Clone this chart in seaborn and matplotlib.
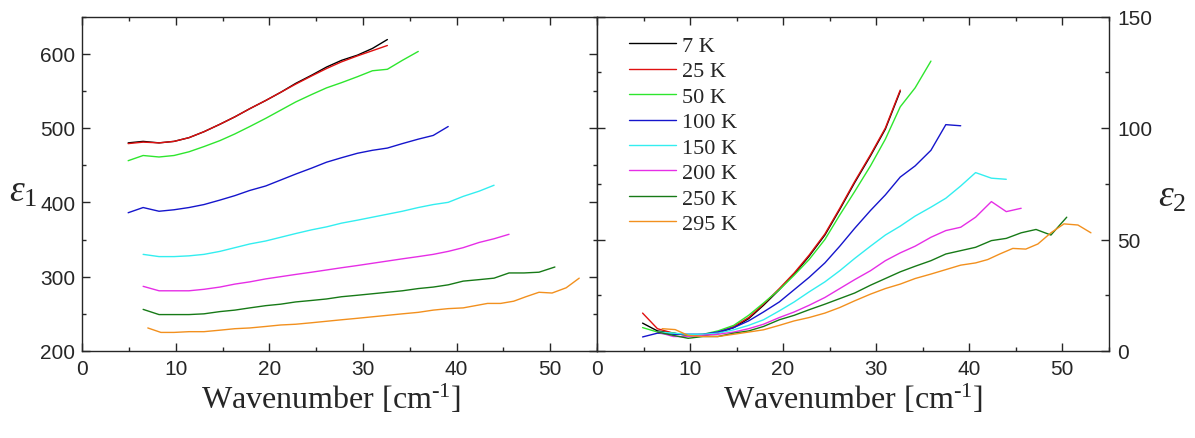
import numpy as np
import pandas as pd
import matplotlib
matplotlib.use('Agg')
import matplotlib.pyplot as plt
import seaborn as sns
from matplotlib.ticker import MultipleLocator

# ---------------- data ----------------
temps = ['7 K', '25 K', '50 K', '100 K', '150 K', '200 K', '250 K', '295 K']
colors = ['#000000', '#e01010', '#2ee62e', '#1515cc', '#33eef0', '#e62ee6', '#177a17', '#f2901e']

x7 = [4.9, 6.5, 8.2, 9.8, 11.4, 13.0, 14.7, 16.3, 17.9, 19.6, 21.2, 22.8, 24.5, 26.1, 27.7, 29.4, 31.0, 32.6]
e1_7 = [480, 482, 480, 482, 487, 495, 505, 515, 526, 537, 548, 560, 571, 582, 591, 598, 607, 619]
e2_7 = [12.5, 9, 8, 7, 7, 8, 10.5, 14.5, 20.5, 27.5, 34.5, 42.5, 52, 63.5, 75.5, 87.5, 99.5, 116.5]

x25 = [4.9, 6.5, 8.2, 9.8, 11.4, 13.0, 14.7, 16.3, 17.9, 19.6, 21.2, 22.8, 24.5, 26.1, 27.7, 29.4, 31.0, 32.6]
e1_25 = [479, 481, 480, 482, 487, 495, 505, 515, 526, 537, 548, 559, 570, 580, 589, 597, 604, 611]
e2_25 = [17, 10, 8, 7, 7, 8.5, 11, 15, 21, 28, 35, 43, 52.5, 64, 76, 88, 100, 117]

x50 = [4.9, 6.5, 8.2, 9.8, 11.4, 13.0, 14.7, 16.3, 17.9, 19.6, 21.2, 22.8, 24.5, 26.1, 27.7, 29.4, 31.0, 32.6, 34.2, 35.9]
e1_50 = [456, 463, 461, 463, 468, 475, 483, 492, 502, 513, 524, 535, 545, 554, 561, 569, 577, 579, 591, 603]
e2_50 = [10.5, 8.5, 8, 7, 7.5, 9, 11.5, 16, 21.5, 27.5, 34, 41, 50, 61, 71.5, 83, 95, 109.5, 118, 130]

x100 = [4.9, 6.5, 8.2, 9.8, 11.4, 13.0, 14.7, 16.3, 17.9, 19.6, 21.2, 22.8, 24.5, 26.1, 27.7, 29.4, 31.0, 32.6, 34.2, 35.9, 37.5, 39.1]
e1_100 = [386, 393, 388, 390, 393, 397, 403, 409, 416, 422, 430, 438, 446, 454, 460, 466, 470, 473, 479, 485, 490, 502]
e2_100 = [6.3, 8, 7.5, 7.5, 7.5, 8.5, 10.5, 13.5, 17.5, 22, 27.5, 33, 39.5, 47, 55, 63, 70, 78, 83, 90, 101.5, 101]

x150 = [6.5, 8.2, 9.8, 11.4, 13.0, 14.7, 16.3, 17.9, 19.6, 21.2, 22.8, 24.5, 26.1, 27.7, 29.4, 31.0, 32.6, 34.2, 35.9, 37.5, 39.1, 40.7, 42.4, 44.0]
e1_150 = [330, 327, 327, 328, 330, 334, 339, 344, 348, 353, 358, 363, 367, 372, 376, 380, 384, 388, 393, 397, 400, 408, 415, 423]
e2_150 = [8.5, 8, 7.5, 7.5, 8, 9.5, 11.5, 14, 18, 22, 26.5, 31, 36, 41.5, 47, 52, 56, 60.5, 64.5, 68.5, 74, 80, 77.5, 77]

x200 = [6.5, 8.2, 9.8, 11.4, 13.0, 14.7, 16.3, 17.9, 19.6, 21.2, 22.8, 24.5, 26.1, 27.7, 29.4, 31.0, 32.6, 34.2, 35.9, 37.5, 39.1, 40.7, 42.4, 44.0, 45.6]
e1_200 = [287, 281, 281, 281, 283, 286, 290, 293, 297, 300, 303, 306, 309, 312, 315, 318, 321, 324, 327, 330, 334, 339, 346, 351, 357]
e2_200 = [8.5, 6.5, 6.5, 7, 7.5, 8.5, 10, 12, 15, 17.5, 20.5, 24, 28, 32, 36, 40.5, 44, 47, 51, 54, 55.5, 60, 67, 62.5, 64]

x250 = [6.5, 8.2, 9.8, 11.4, 13.0, 14.7, 16.3, 17.9, 19.6, 21.2, 22.8, 24.5, 26.1, 27.7, 29.4, 31.0, 32.6, 34.2, 35.9, 37.5, 39.1, 40.7, 42.4, 44.0, 45.6, 47.2, 48.8, 50.5]
e1_250 = [256, 249, 249, 249, 250, 253, 255, 258, 261, 263, 266, 268, 270, 273, 275, 277, 279, 281, 284, 286, 289, 294, 296, 298, 305, 305, 306, 313]
e2_250 = [8.5, 7, 5.7, 6.5, 6.5, 8, 9, 11, 14, 16, 18.5, 21, 23.5, 26, 29.5, 32.5, 35.5, 38, 40.5, 43.5, 45, 46.5, 49.5, 50.5, 53, 54.5, 52, 60]

x295 = [7.0, 8.4, 9.8, 11.4, 13.0, 14.7, 16.3, 17.9, 19.6, 21.2, 22.8, 24.5, 26.1, 27.7, 29.4, 31.0, 32.6, 34.2, 35.9, 37.5, 39.1, 40.7, 42.0, 43.3, 44.7, 46.1, 47.4, 48.8, 50.2, 51.7, 53.1]
e1_295 = [231, 225, 225, 226, 226, 228, 230, 231, 233, 235, 236, 238, 240, 242, 244, 246, 248, 250, 252, 255, 257, 258, 261, 264, 264, 267, 273, 279, 278, 285, 298]
e2_295 = [10, 9.6, 7, 6.5, 6.5, 7.5, 8.5, 9.5, 11.5, 13.5, 15, 17, 19.5, 22.5, 25.5, 28, 30, 32.5, 34.5, 36.5, 38.5, 39.5, 41, 43.5, 46, 45.7, 48, 53, 57, 56.5, 53]

xs = [x7, x25, x50, x100, x150, x200, x250, x295]
e1s = [e1_7, e1_25, e1_50, e1_100, e1_150, e1_200, e1_250, e1_295]
e2s = [e2_7, e2_25, e2_50, e2_100, e2_150, e2_200, e2_250, e2_295]

rows = []
for t, x, a, b in zip(temps, xs, e1s, e2s):
    for xi, ai, bi in zip(x, a, b):
        rows.append({'T': t, 'wn': xi, 'e1': ai, 'e2': bi})
df = pd.DataFrame(rows)
pal = dict(zip(temps, colors))

# ---------------- style ----------------
sns.set_style('ticks')
plt.rcParams['font.family'] = ['Liberation Sans', 'DejaVu Sans']
plt.rcParams['mathtext.fontset'] = 'custom'
plt.rcParams['mathtext.rm'] = 'Liberation Serif'
plt.rcParams['mathtext.it'] = 'Liberation Serif:italic'
plt.rcParams['axes.linewidth'] = 1.0

W, H = 1195, 439
fig = plt.figure(figsize=(W / 100, H / 100), dpi=100)
bot = 1 - 352 / H
hgt = (352 - 17.5) / H
ax1 = fig.add_axes([82.3 / W, bot, (597 - 82.3) / W, hgt])
ax2 = fig.add_axes([597 / W, bot, (1108.6 - 597) / W, hgt])

sns.lineplot(data=df, x='wn', y='e1', hue='T', hue_order=temps, palette=pal,
             sort=False, estimator=None, ax=ax1, legend=False, linewidth=1.0)
sns.lineplot(data=df, x='wn', y='e2', hue='T', hue_order=temps, palette=pal,
             sort=False, estimator=None, ax=ax2, legend=True, linewidth=1.0)

serif = ['Liberation Serif', 'DejaVu Serif']
xlab = 'Wavenumber [cm$^{\\text{-1}}$]'
for ax in (ax1, ax2):
    ax.set_xlim(0, 55)
    ax.xaxis.set_major_locator(MultipleLocator(10))
    ax.xaxis.set_minor_locator(MultipleLocator(5))
    ax.tick_params(which='both', direction='in', top=True, bottom=True,
                   left=True, right=True, width=1.0, labelsize=15)
    ax.tick_params(which='major', length=5.5)
    ax.tick_params(which='minor', length=3)
    ax.tick_params(axis='x', pad=6)
    ax.set_xlabel(xlab, fontsize=23, family=serif)
    for s in ax.spines.values():
        s.set_visible(True)
        s.set_linewidth(1.0)

ax1.set_ylim(200, 650)
ax1.yaxis.set_major_locator(MultipleLocator(100))
ax1.yaxis.set_minor_locator(MultipleLocator(50))
ax1.tick_params(axis='y', pad=5)
ax1.set_ylabel(r'$\mathit{\varepsilon}_{\mathrm{1}}$', fontsize=27, rotation=0, ha='center', va='center')
ax1.yaxis.set_label_coords(-0.115, 0.48)
ax1.xaxis.set_label_coords(0.4825, -0.093)

ax2.set_ylim(0, 150)
ax2.yaxis.set_major_locator(MultipleLocator(50))
ax2.yaxis.set_minor_locator(MultipleLocator(25))
ax2.tick_params(axis='y', labelleft=False, labelright=True, pad=6)
ax2.yaxis.set_label_position('right')
ax2.set_ylabel(r'$\mathit{\varepsilon}_{\mathrm{2}}$', fontsize=27, rotation=0, ha='center', va='center')
ax2.yaxis.set_label_coords(1.125, 0.465)
ax2.xaxis.set_label_coords(0.5, -0.093)

handles, labels = ax2.get_legend_handles_labels()
ax2.legend(handles, labels, loc='upper left', bbox_to_anchor=(0.032, 0.99), frameon=False,
           prop={'family': serif, 'size': 16}, handlelength=2.1, handletextpad=0.3,
           labelspacing=0.22, borderaxespad=0.3)

fig.savefig('out.png', dpi=100)
